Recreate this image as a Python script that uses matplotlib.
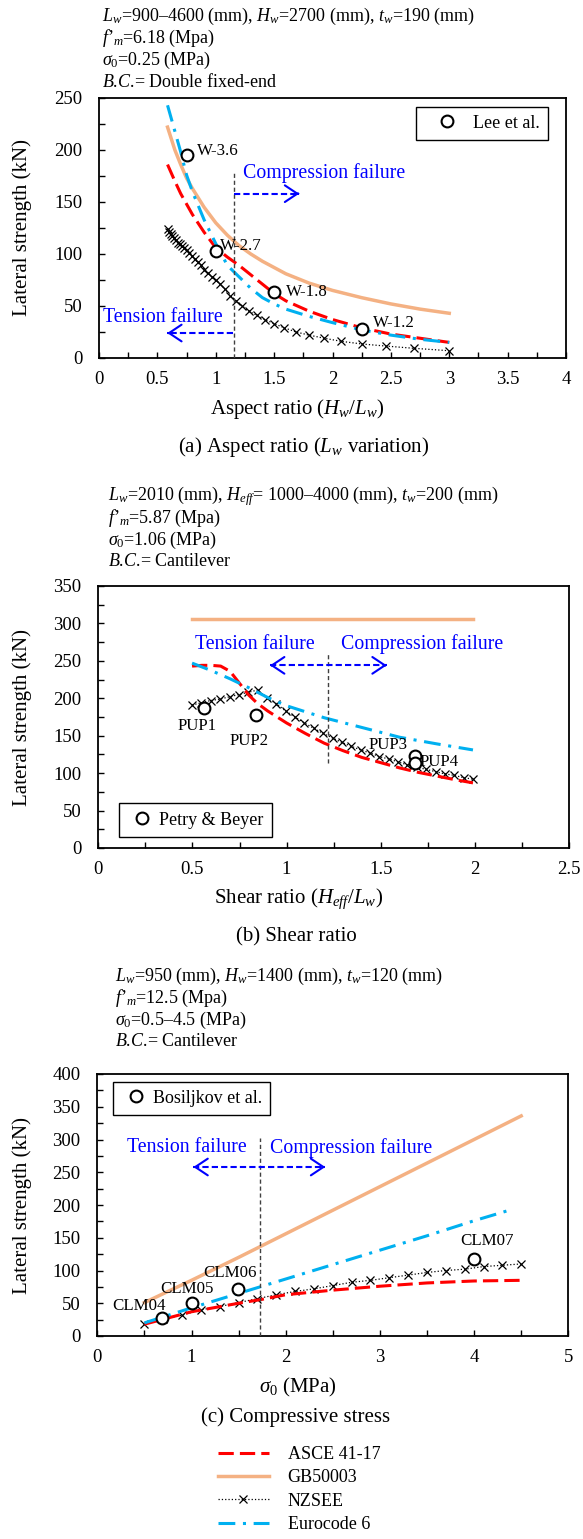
import matplotlib
matplotlib.use("Agg")
import matplotlib.pyplot as plt
from matplotlib.ticker import MultipleLocator, FuncFormatter

plt.rcParams["font.family"] = ["Liberation Serif", "DejaVu Serif"]
plt.rcParams["mathtext.fontset"] = "custom"
plt.rcParams["mathtext.rm"] = "Liberation Serif"
plt.rcParams["mathtext.it"] = "Liberation Serif:italic"
plt.rcParams["mathtext.bf"] = "Liberation Serif:bold"

RED = "#FF0000"
ORANGE = "#F4B183"
SKY = "#00B0F0"
TXT_BLUE = "#0000FF"
FS = 13          # header and legend text
FS_TICK = 13.5
FS_AX = 15       # axis titles and captions
FS_PT = 12.2     # specimen labels

# ---- (a) aspect ratio ----
aspect_line = [0.587, 0.65, 0.7, 0.75, 0.8, 0.9, 1.0, 1.1, 1.2, 1.3, 1.4, 1.5,
               1.6, 1.8, 2.0, 2.25, 2.5, 2.75, 3.0]
asce_a = [186, 170, 158, 148, 138, 121, 106, 97, 89, 80, 71, 62, 55, 45, 37, 29, 23, 19, 15]
gb_a = [222, 200, 186, 173, 163, 145, 130, 118, 108, 100, 93, 87, 81, 72, 65, 58, 52, 47, 43]
ec6_a = [243, 218, 198, 176, 160, 133, 110, 89, 78, 67, 58, 52, 47, 40, 34, 27, 22, 18, 15]
aspect_nz = [0.587, 0.6, 0.614, 0.628, 0.643, 0.659, 0.675, 0.692, 0.711, 0.730,
             0.75, 0.771, 0.794, 0.818, 0.844, 0.871, 0.9, 0.931, 0.964, 1.0,
             1.038, 1.08, 1.125, 1.174, 1.227, 1.286, 1.35, 1.421, 1.5, 1.588,
             1.688, 1.8, 1.929, 2.077, 2.25, 2.455, 2.7, 3.0]
nz_a = [124, 121, 119, 117, 115, 113, 111, 110, 108, 106,
        104, 101, 98, 95, 92, 89, 85, 82, 78, 75,
        71, 66, 60, 55, 50, 45, 41, 37, 33, 29,
        25, 22, 19, 16, 13.5, 11.5, 9.3, 7]
lee_x = [0.751, 0.999, 1.501, 2.25]
lee_y = [195, 103, 63, 28]
lee_lbl = ["W-3.6", "W-2.7", "W-1.8", "W-1.2"]

# ---- (b) shear ratio ----
shear_nz = [0.498, 0.547, 0.597, 0.647, 0.697, 0.746, 0.796, 0.846, 0.896, 0.945,
            0.995, 1.045, 1.095, 1.144, 1.194, 1.244, 1.294, 1.343, 1.393, 1.443,
            1.493, 1.542, 1.592, 1.642, 1.692, 1.741, 1.791, 1.841, 1.891, 1.940, 1.990]
nz_b = [191, 194, 197, 199, 202, 205, 208, 211, 200, 193,
        183, 175, 167, 160, 153, 147, 141, 136, 131, 127,
        122, 119, 115, 111, 108, 105, 102, 99, 97, 94, 92]
shear_asce = [0.498, 0.55, 0.6, 0.65, 0.7, 0.75, 0.8, 0.846, 0.9, 1.0, 1.1, 1.2,
              1.3, 1.4, 1.5, 1.6, 1.7, 1.8, 1.9, 1.99]
asce_b = [243, 244, 244, 243, 236, 220, 204, 193, 183, 167, 153, 140,
          130, 121, 114, 107, 101, 96, 91, 87]
shear_ec6 = [0.498, 0.6, 0.7, 0.8, 0.9, 1.0, 1.2, 1.4, 1.6, 1.8, 1.99]
ec6_b = [247, 237, 226, 214, 201, 190, 174, 161, 148, 139, 131]
shear_gb = [0.498, 1.99]
gb_b = [306, 306]
pup_x = [0.561, 0.84, 1.682, 1.682]
pup_y = [187, 178, 123, 114]
pup_lbl = ["PUP1", "PUP2", "PUP3", "PUP4"]

# ---- (c) compressive stress ----
stress_nz = [0.5, 0.7, 0.9, 1.1, 1.3, 1.5, 1.7, 1.9, 2.1, 2.3, 2.5, 2.7, 2.9,
             3.1, 3.3, 3.5, 3.7, 3.9, 4.1, 4.3, 4.5]
nz_c = [19, 26, 32, 40, 45, 51, 57, 63, 68, 72, 77, 82, 85, 89, 93, 97, 100, 102,
        106, 108, 110]
stress_asce = [0.5, 1.0, 1.5, 1.75, 2.0, 2.5, 3.0, 3.5, 4.0, 4.5]
asce_c = [18, 37, 50, 56, 63, 70, 76, 81, 84, 85]
stress_gb = [0.5, 1.0, 1.5, 2.0, 2.5, 3.0, 3.5, 4.0, 4.5]
gb_c = [51, 85, 120, 156, 192, 228, 264, 300, 336]
stress_ec6 = [0.5, 1.0, 1.5, 2.0, 2.5, 3.0, 3.5, 4.0, 4.42]
ec6_c = [20, 43, 65, 87, 109, 131, 153, 176, 194]
bos_x = [0.69, 1.0, 1.49, 4.0]
bos_y = [28, 50, 71, 117]
bos_lbl = ["CLM04", "CLM05", "CLM06", "CLM07"]

W, H = 583, 1539
fig = plt.figure(figsize=(W / 100, H / 100), dpi=100)


def rect(l, r, t, b):
    return [l / W, 1 - b / H, (r - l) / W, (b - t) / H]


ax1 = fig.add_axes(rect(99, 566, 98, 358))
ax2 = fig.add_axes(rect(98.3, 569, 586, 848))
ax3 = fig.add_axes(rect(97.3, 568.3, 1074, 1336))


def draw_codes(ax, xa, ya, xg, yg, xn, yn, xe, ye):
    gb, = ax.plot(xg, yg, color=ORANGE, lw=2.5, label="GB50003", zorder=2)
    nz, = ax.plot(xn, yn, color="black", lw=0.9, ls=":", marker="x", ms=6,
                  mew=0.9, label="NZSEE", zorder=3)
    asce, = ax.plot(xa, ya, color=RED, lw=2.2, ls=(0, (5, 2)),
                    label="ASCE 41-17", zorder=4)
    ec6, = ax.plot(xe, ye, color=SKY, lw=2.2, ls=(0, (5.5, 2.5, 1, 2.5)),
                   label="Eurocode 6", zorder=4)
    return [asce, gb, nz, ec6]


def draw_tests(ax, xs, ys, labels, offsets, name, legend_anchor, legend_loc,
               hlen=1.6):
    h, = ax.plot(xs, ys, ls="none", marker="o", ms=8.5, mfc="white", mec="black",
                 mew=1.5, label=name, zorder=6)
    for x, y, t, (dx, dy, ha) in zip(xs, ys, labels, offsets):
        ax.annotate(t, (x, y), xytext=(dx, dy), textcoords="offset pixels",
                    ha=ha, va="center", fontsize=FS_PT, zorder=7)
    leg = ax.legend(handles=[h], loc=legend_loc, bbox_to_anchor=legend_anchor,
                    frameon=True, fancybox=False, edgecolor="black", framealpha=1,
                    borderaxespad=0, fontsize=FS, handlelength=hlen,
                    handletextpad=0.15, borderpad=0.45)
    leg.get_frame().set_linewidth(1.0)


def arrow(ax, x0, x1, y, both=False):
    ax.plot([x0, x1], [y, y], color=TXT_BLUE, lw=1.5, ls=(0, (3, 1.5)), zorder=5)
    d = (x1 - x0) * 0.02
    style = "->, head_length=0.45, head_width=0.3"
    ax.annotate("", xy=(x1, y), xytext=(x1 - d, y),
                arrowprops=dict(arrowstyle=style, color=TXT_BLUE, lw=1.5,
                                shrinkA=0, shrinkB=0, mutation_scale=20))
    if both:
        ax.annotate("", xy=(x0, y), xytext=(x0 + d, y),
                    arrowprops=dict(arrowstyle=style, color=TXT_BLUE, lw=1.5,
                                    shrinkA=0, shrinkB=0, mutation_scale=20))


def style_axes(ax, xmax, xmaj, xmin, ymax, xlabel, xl_x, yl_x, xl_y):
    ax.set_xlim(0, xmax)
    ax.set_ylim(0, ymax)
    ax.xaxis.set_major_locator(MultipleLocator(xmaj))
    ax.xaxis.set_minor_locator(MultipleLocator(xmin))
    ax.yaxis.set_major_locator(MultipleLocator(50))
    ax.yaxis.set_minor_locator(MultipleLocator(25))
    ax.xaxis.set_major_formatter(FuncFormatter(lambda v, _: f"{v:g}"))
    ax.tick_params(which="both", direction="in", length=4.5, width=1.0,
                   labelsize=FS_TICK)
    ax.tick_params(axis="x", pad=9)
    ax.tick_params(axis="y", pad=12)
    for s in ax.spines.values():
        s.set_linewidth(1.3)
    ax.set_xlabel(xlabel, fontsize=FS_AX)
    ax.xaxis.set_label_coords(xl_x, xl_y)
    ax.xaxis.label.set_va("center")
    ax.set_ylabel("Lateral strength (kN)", fontsize=FS_AX)
    ax.yaxis.set_label_coords(yl_x, 0.5)
    ax.yaxis.label.set_va("center")


def header(x, ys, lines):
    for y, t in zip(ys, lines):
        fig.text(x / W, 1 - y / H, t, fontsize=FS, va="center", ha="left")


# ---------------- panel (a) ----------------
handles = draw_codes(ax1, aspect_line, asce_a, aspect_line, gb_a, aspect_nz, nz_a,
                     aspect_line, ec6_a)
draw_tests(ax1, lee_x, lee_y, lee_lbl,
           [(10, 4, "left"), (4, 5, "left"), (12, 0, "left"), (11, 6, "left")],
           "Lee et al.", (0.678, 0.967), "upper left", hlen=2.6)
ax1.vlines(1.156, 0, 180, colors="#404040", linestyles=(0, (3, 2)), lw=1.0, zorder=5)
ax1.text(1.23, 178, "Compression failure", color=TXT_BLUE, fontsize=14.3,
         va="center", ha="left")
arrow(ax1, 1.156, 1.715, 158)
ax1.text(0.037, 39, "Tension failure", color=TXT_BLUE, fontsize=14.3,
         va="center", ha="left")
arrow(ax1, 1.15, 0.584, 24)
style_axes(ax1, 4, 0.5, 0.25, 250, r"Aspect ratio ($H_w$/$L_w$)",
           0.425, -0.165, -0.196)
header(102, [16, 38, 60, 82],
       [r"$L_w$=900–4600 (mm), $H_w$=2700 (mm), $t_w$=190 (mm)",
        r"$f’_m$=6.18 (Mpa)",
        r"$\sigma_\mathrm{0}$=0.25 (MPa)",
        r"$B$.$C$.= Double fixed-end"])
fig.text(303.7 / W, 1 - 447 / H, r"(a) Aspect ratio ($L_w$ variation)",
         fontsize=FS_AX, ha="center", va="center")

# ---------------- panel (b) ----------------
draw_codes(ax2, shear_asce, asce_b, shear_gb, gb_b, shear_nz, nz_b, shear_ec6, ec6_b)
draw_tests(ax2, pup_x, pup_y, pup_lbl,
           [(-7, -18, "center"), (-7, -26, "center"), (-27, 11, "center"),
            (24, 1, "center")],
           "Petry & Beyer", (0.045, 0.043), "lower left")
ax2.vlines(1.218, 113, 261, colors="#404040", linestyles=(0, (3, 2)), lw=1.0, zorder=5)
ax2.text(0.834, 272, "Tension failure", color=TXT_BLUE, fontsize=14.3,
         va="center", ha="center")
ax2.text(1.719, 272, "Compression failure", color=TXT_BLUE, fontsize=14.3,
         va="center", ha="center")
arrow(ax2, 0.912, 1.532, 244, both=True)
style_axes(ax2, 2.5, 0.5, 0.25, 350, r"Shear ratio ($H_{eff}$/$L_w$)",
           (299 - 98.3) / 470.7, -0.162, -0.195)
header(108, [496, 518, 540, 562],
       [r"$L_w$=2010 (mm), $H_{eff}$= 1000–4000 (mm), $t_w$=200 (mm)",
        r"$f’_m$=5.87 (Mpa)",
        r"$\sigma_\mathrm{0}$=1.06 (MPa)",
        r"$B$.$C$.= Cantilever"])
fig.text(296 / W, 1 - 937 / H, "(b) Shear ratio", fontsize=FS_AX,
         ha="center", va="center")

# ---------------- panel (c) ----------------
handles = draw_codes(ax3, stress_asce, asce_c, stress_gb, gb_c, stress_nz, nz_c,
                     stress_ec6, ec6_c)
draw_tests(ax3, bos_x, bos_y, bos_lbl,
           [(-23, 12, "center"), (-5, 14, "center"), (-8, 16, "center"),
            (13, 18, "center")],
           "Bosiljkov et al.", (0.034, 0.971), "upper left")
ax3.vlines(1.727, 0, 302, colors="#404040", linestyles=(0, (3, 2)), lw=1.0, zorder=5)
ax3.text(0.946, 288, "Tension failure", color=TXT_BLUE, fontsize=14.3,
         va="center", ha="center")
ax3.text(2.69, 287, "Compression failure", color=TXT_BLUE, fontsize=14.3,
         va="center", ha="center")
arrow(ax3, 1.02, 2.42, 258, both=True)
style_axes(ax3, 5, 1, 0.5, 400, r"$\sigma_\mathrm{0}$ (MPa)",
           (297.5 - 97.3) / 471, -0.160, -0.198)
header(115, [976, 998, 1020, 1042],
       [r"$L_w$=950 (mm), $H_w$=1400 (mm), $t_w$=120 (mm)",
        r"$f’_m$=12.5 (Mpa)",
        r"$\sigma_\mathrm{0}$=0.5–4.5 (MPa)",
        r"$B$.$C$.= Cantilever"])
fig.text(296 / W, 1 - 1417 / H, "(c) Compressive stress", fontsize=FS_AX,
         ha="center", va="center")

fig.legend(handles=handles, loc="center left",
           bbox_to_anchor=(218 / W, 1 - 1489.5 / H), frameon=False, fontsize=FS,
           handlelength=2.8, handletextpad=1.05, labelspacing=0.35,
           borderpad=0, borderaxespad=0)

fig.savefig("out.png", dpi=100)
